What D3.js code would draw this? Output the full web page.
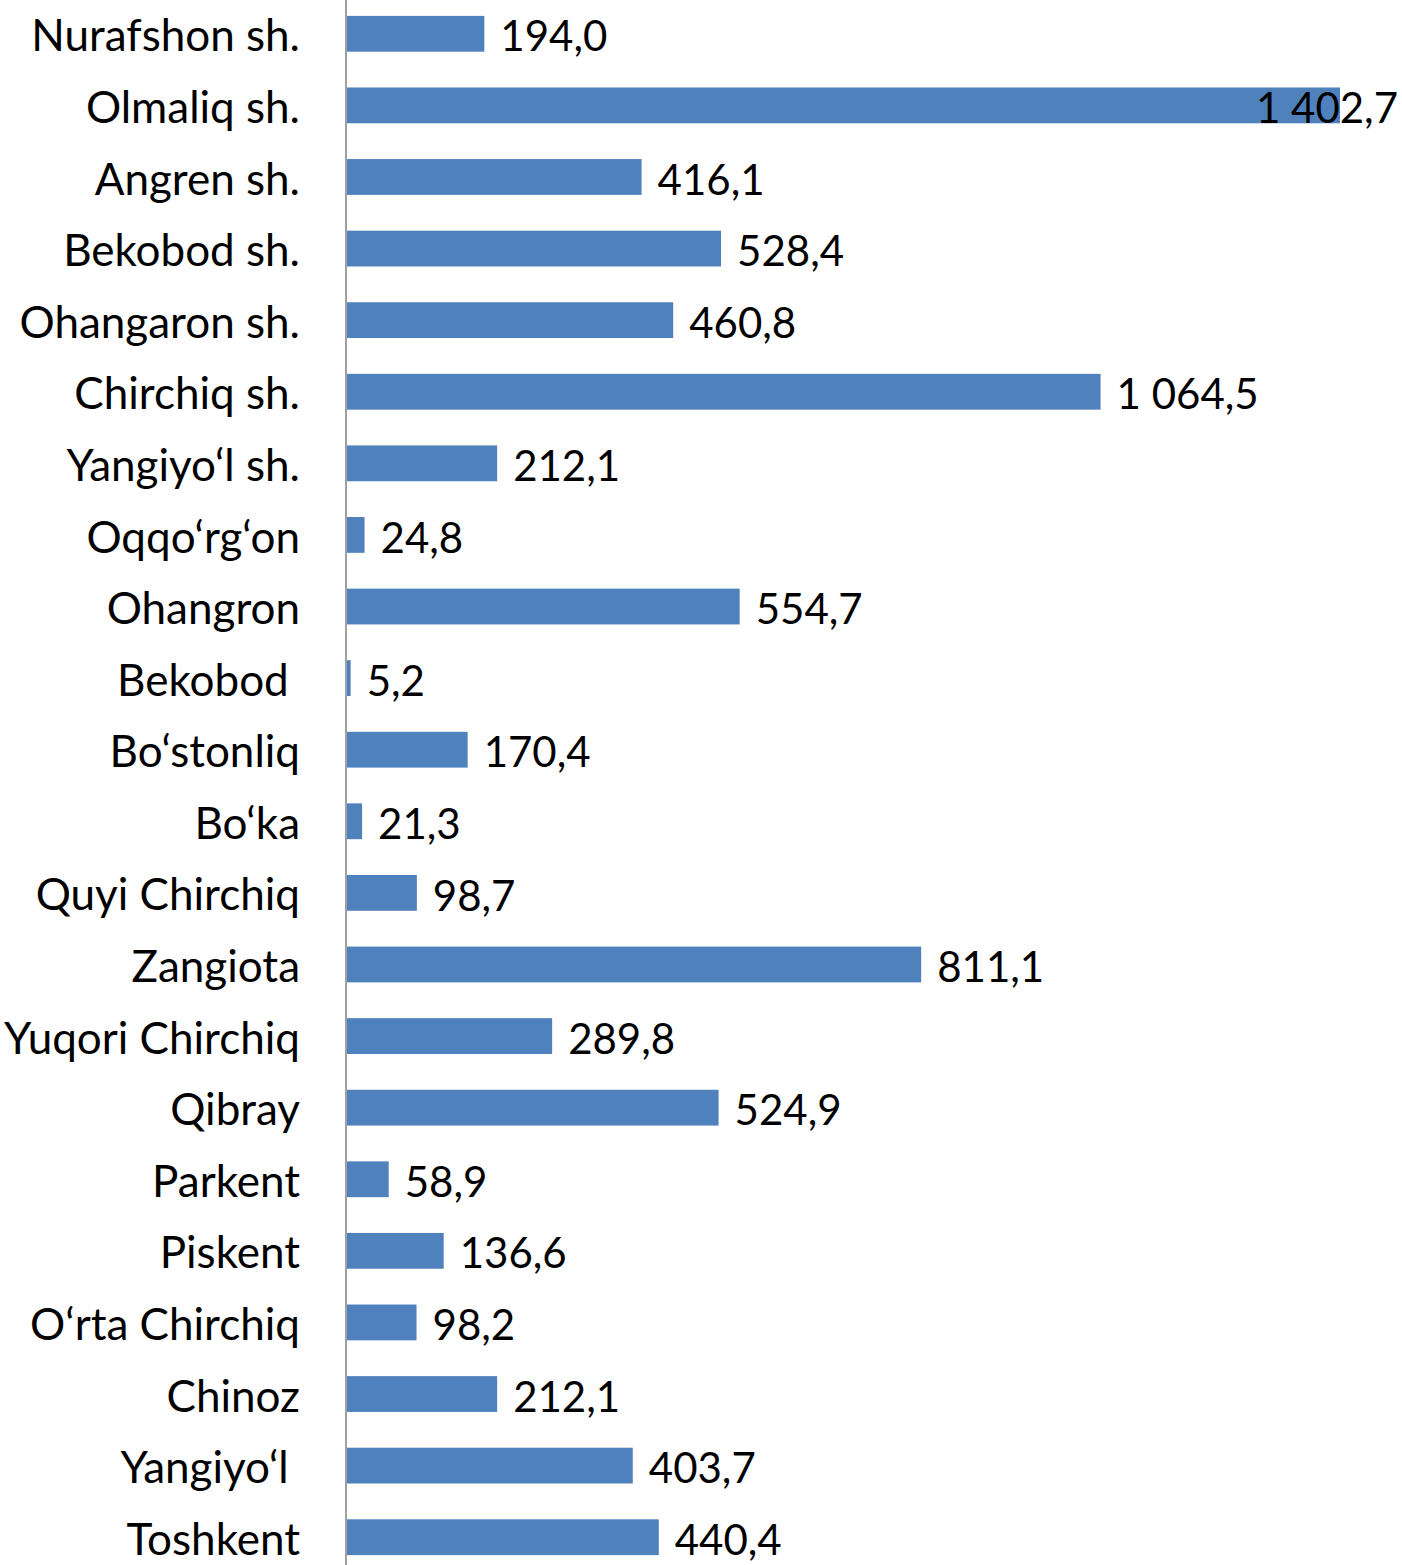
<!DOCTYPE html>
<html>
<head>
<meta charset="utf-8">
<script src="https://cdn.jsdelivr.net/npm/d3@7"></script>
<style>
  body { margin: 0; background: #fff; }
  text { font-family: Lato, "Noto Sans", sans-serif; fill: #000; }
</style>
</head>
<body>
<svg id="chart"></svg>
<script>
const width = 1402;
const height = 1565;
const axisX = 347;

// Data
const categories = [
  "Nurafshon sh.", "Olmaliq sh.", "Angren sh.", "Bekobod sh.", "Ohangaron sh.",
  "Chirchiq sh.", "Yangiyo‘l sh.", "Oqqo‘rg‘on", "Ohangron", "Bekobod ",
  "Bo‘stonliq", "Bo‘ka", "Quyi Chirchiq", "Zangiota", "Yuqori Chirchiq",
  "Qibray", "Parkent", "Piskent", "O‘rta Chirchiq", "Chinoz", "Yangiyo‘l ", "Toshkent"
];
const values = [
  194.0, 1402.7, 416.1, 528.4, 460.8, 1064.5, 212.1, 24.8, 554.7, 5.2,
  170.4, 21.3, 98.7, 811.1, 289.8, 524.9, 58.9, 136.6, 98.2, 212.1, 403.7, 440.4
];

const data = categories.map((c, i) => ({ name: c, value: values[i] }));

const svg = d3.select("#chart")
  .attr("width", width)
  .attr("height", height);

const y = d3.scaleBand()
  .domain(d3.range(categories.length))
  .range([-2, 1573])
  .paddingInner(0.5)
  .paddingOuter(0.25);

const x = d3.scaleLinear()
  .domain([0, 1400])
  .range([axisX, axisX + 1400 * 0.7079]);

// format like "1 402,7"
const fmt = (v) => {
  const s = v.toFixed(1).replace(".", ",");
  const [int, dec] = s.split(",");
  return int.replace(/\B(?=(\d{3})+(?!\d))/g, " ") + "," + dec;
};

// bars
svg.append("g")
  .attr("fill", "#4f81bd")
  .selectAll("rect")
  .data(data)
  .join("rect")
  .attr("x", x(0))
  .attr("y", (d, i) => y(i))
  .attr("width", (d) => x(d.value) - x(0))
  .attr("height", y.bandwidth());

// value labels, kept inside the picture like Excel does
svg.append("g")
  .selectAll("text")
  .data(data)
  .join("text")
  .attr("y", (d, i) => y(i) + y.bandwidth() / 2)
  .attr("dy", "0.42em")
  .attr("font-size", 42)
  .text((d) => fmt(d.value))
  .attr("x", function (d) {
    const w = this.getComputedTextLength();
    return Math.min(x(d.value) + 16, width - 4 - w);
  });

// category axis
svg.append("g")
  .attr("transform", `translate(${axisX - 1},0)`)
  .call(d3.axisLeft(y).tickSize(0).tickPadding(46).tickFormat((i) => categories[i]))
  .call((g) => g.select(".domain").attr("stroke", "#a0a0a0").attr("stroke-width", 2)
    .attr("d", `M0,0V${height}`))
  .call((g) => g.selectAll(".tick text")
    .attr("font-size", 44)
    .attr("fill", "#000")
    .attr("dy", "0.4em")
    .style("white-space", "pre")
    .style("font-family", "Lato, 'Noto Sans', sans-serif"));
</script>
</body>
</html>
